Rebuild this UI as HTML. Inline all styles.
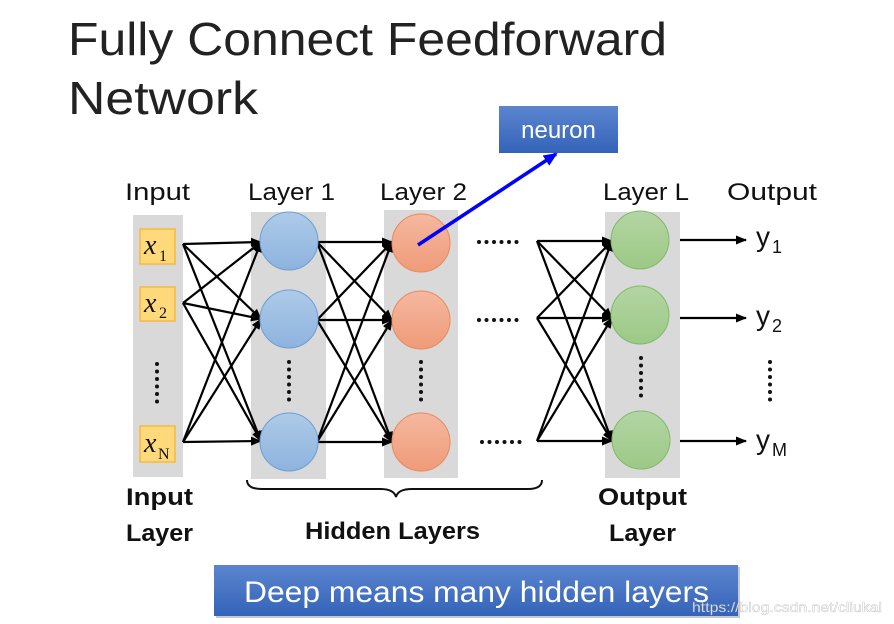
<!DOCTYPE html>
<html><head><meta charset="utf-8"><style>
html,body{margin:0;padding:0;background:#fff;}
svg{display:block;}
</style></head><body>
<svg width="894" height="624" viewBox="0 0 894 624" xmlns="http://www.w3.org/2000/svg" font-family="Liberation Sans, sans-serif">
<defs>
<marker id="a" markerWidth="11" markerHeight="9" refX="10" refY="4.5" orient="auto" markerUnits="userSpaceOnUse"><path d="M0,0 L11,4.5 L0,9 z" fill="#000"/></marker>
<marker id="b" markerWidth="14" markerHeight="12" refX="12" refY="6" orient="auto" markerUnits="userSpaceOnUse"><path d="M0,0 L14,6 L0,12 z" fill="#00f"/></marker>
<linearGradient id="gb" x1="0" y1="0" x2="0" y2="1"><stop offset="0" stop-color="#aecbe8"/><stop offset="1" stop-color="#8db3de"/></linearGradient>
<linearGradient id="go" x1="0" y1="0" x2="0" y2="1"><stop offset="0" stop-color="#f5b8a0"/><stop offset="1" stop-color="#ef9b78"/></linearGradient>
<linearGradient id="gg" x1="0" y1="0" x2="0" y2="1"><stop offset="0" stop-color="#b3d5a3"/><stop offset="1" stop-color="#9cc986"/></linearGradient>
<linearGradient id="bl" x1="0" y1="0" x2="0" y2="1"><stop offset="0" stop-color="#5b85cf"/><stop offset="1" stop-color="#3463b8"/></linearGradient>
<g id="vd"><circle cx="0" cy="0" r="2"/><circle cx="0" cy="7.5" r="2"/><circle cx="0" cy="15" r="2"/><circle cx="0" cy="22.5" r="2"/><circle cx="0" cy="30" r="2"/><circle cx="0" cy="37.5" r="2"/></g>
</defs>
<text x="68" y="55" font-size="46" textLength="599" lengthAdjust="spacingAndGlyphs" fill="#222">Fully Connect Feedforward</text>
<text x="68" y="114" font-size="46" textLength="190" lengthAdjust="spacingAndGlyphs" fill="#222">Network</text>

<rect x="499" y="106" width="119" height="47" fill="url(#bl)"/>
<text x="558.5" y="138" font-size="24" fill="#fff" text-anchor="middle">neuron</text>

<g font-size="24" fill="#111">
<text x="125" y="200" textLength="65" lengthAdjust="spacingAndGlyphs">Input</text>
<text x="248" y="200" textLength="87" lengthAdjust="spacingAndGlyphs">Layer 1</text>
<text x="380" y="200" textLength="87" lengthAdjust="spacingAndGlyphs">Layer 2</text>
<text x="603" y="200" textLength="86" lengthAdjust="spacingAndGlyphs">Layer L</text>
<text x="727" y="200" textLength="90" lengthAdjust="spacingAndGlyphs">Output</text>
</g>

<rect x="133" y="215" width="50" height="262" fill="#d9d9d9"/>
<rect x="251" y="212" width="75" height="267" fill="#d9d9d9"/>
<rect x="384" y="210" width="74" height="268" fill="#d9d9d9"/>
<rect x="605" y="212" width="75" height="266" fill="#d9d9d9"/>

<g fill="#ffd97a" stroke="#f5b942" stroke-width="1.5">
<rect x="140" y="229" width="35" height="35"/>
<rect x="140" y="287" width="35" height="34"/>
<rect x="140" y="426" width="35" height="36"/>
</g>
<g style="font-family:'Liberation Serif',serif;font-style:italic;font-size:28px" fill="#111">
<text x="144" y="254">x</text><text x="144" y="312">x</text><text x="144" y="452">x</text>
</g>
<g style="font-family:'Liberation Serif',serif;font-size:16px" fill="#111">
<text x="159" y="261">1</text><text x="159" y="318">2</text><text x="158" y="459">N</text>
</g>

<g stroke="#000" stroke-width="2.2" fill="none" marker-end="url(#a)">
<line x1="183" y1="244" x2="261" y2="242"/><line x1="183" y1="244" x2="261" y2="319"/><line x1="183" y1="244" x2="261" y2="441"/>
<line x1="183" y1="303" x2="261" y2="242"/><line x1="183" y1="303" x2="261" y2="319"/><line x1="183" y1="303" x2="261" y2="441"/>
<line x1="183" y1="442" x2="261" y2="242"/><line x1="183" y1="442" x2="261" y2="319"/><line x1="183" y1="442" x2="261" y2="441"/>
<line x1="317" y1="242" x2="392" y2="242"/><line x1="317" y1="242" x2="392" y2="320"/><line x1="317" y1="242" x2="392" y2="442"/>
<line x1="317" y1="320" x2="392" y2="242"/><line x1="317" y1="320" x2="392" y2="320"/><line x1="317" y1="320" x2="392" y2="442"/>
<line x1="317" y1="442" x2="392" y2="242"/><line x1="317" y1="442" x2="392" y2="320"/><line x1="317" y1="442" x2="392" y2="442"/>
<line x1="537" y1="241" x2="612" y2="241"/><line x1="537" y1="241" x2="612" y2="318"/><line x1="537" y1="241" x2="612" y2="441"/>
<line x1="537" y1="318" x2="612" y2="241"/><line x1="537" y1="318" x2="612" y2="318"/><line x1="537" y1="318" x2="612" y2="441"/>
<line x1="537" y1="441" x2="612" y2="241"/><line x1="537" y1="441" x2="612" y2="318"/><line x1="537" y1="441" x2="612" y2="441"/>
<line x1="680" y1="240" x2="746" y2="240"/><line x1="680" y1="318" x2="746" y2="318"/><line x1="680" y1="441" x2="746" y2="441"/>
</g>

<g stroke="#6d9ed4" stroke-width="1" fill="url(#gb)">
<circle cx="289" cy="241" r="29"/><circle cx="289" cy="319" r="29"/><circle cx="289" cy="442" r="29"/>
</g>
<g stroke="#e88a60" stroke-width="1" fill="url(#go)">
<circle cx="421" cy="243" r="29"/><circle cx="421" cy="320" r="29"/><circle cx="421" cy="442" r="29"/>
</g>
<g stroke="#82b96a" stroke-width="1" fill="url(#gg)">
<circle cx="640" cy="240" r="29"/><circle cx="640" cy="315" r="29"/><circle cx="641" cy="440" r="29"/>
</g>

<line x1="418" y1="245" x2="556" y2="154" stroke="#00f" stroke-width="3.5" marker-end="url(#b)"/>

<g fill="#111">
<use href="#vd" x="157" y="364"/><use href="#vd" x="289" y="362"/><use href="#vd" x="421" y="362"/><use href="#vd" x="641" y="358"/><use href="#vd" x="770" y="362"/>
<use href="#vd" transform="translate(479,242) rotate(-90) scale(-1,1)"/>
<use href="#vd" transform="translate(479,320) rotate(-90) scale(-1,1)"/>
<use href="#vd" transform="translate(482,442) rotate(-90) scale(-1,1)"/>
</g>

<g font-size="28" fill="#111">
<text x="756" y="246">y</text><text x="756" y="325">y</text><text x="756" y="449">y</text>
</g>
<g font-size="18" fill="#111">
<text x="772" y="253">1</text><text x="772" y="332">2</text><text x="772" y="456">M</text>
</g>

<path d="M247,480 Q247,489 262,489 L380,489 Q394,489 396,497 Q398,489 412,489 L528,489 Q542,489 542,480" fill="none" stroke="#111" stroke-width="2"/>

<g font-size="24" font-weight="bold" fill="#111">
<text x="126" y="505" textLength="67" lengthAdjust="spacingAndGlyphs">Input</text>
<text x="126" y="541" textLength="67" lengthAdjust="spacingAndGlyphs">Layer</text>
<text x="305" y="539" textLength="175" lengthAdjust="spacingAndGlyphs">Hidden Layers</text>
<text x="598" y="505" textLength="89" lengthAdjust="spacingAndGlyphs">Output</text>
<text x="609" y="541" textLength="67" lengthAdjust="spacingAndGlyphs">Layer</text>
</g>

<rect x="216" y="567" width="524" height="51" fill="#222" opacity="0.25"/>
<rect x="214" y="565" width="524" height="51" fill="url(#bl)"/>
<text x="244" y="602" font-size="30" fill="#fff" textLength="465" lengthAdjust="spacingAndGlyphs">Deep means many hidden layers</text>
<text x="692" y="612" font-size="14" fill="#fff" opacity="0.85" textLength="190" lengthAdjust="spacingAndGlyphs" stroke="#999" stroke-width="0.3">https://blog.csdn.net/cliukai</text>
</svg>
</body></html>
